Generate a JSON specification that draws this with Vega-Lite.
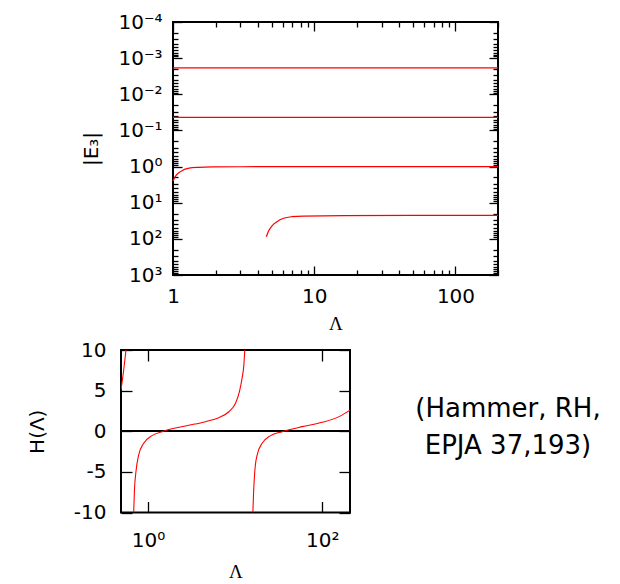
{
  "$schema": "https://vega.github.io/schema/vega-lite/v6.json",
  "background": "white",
  "padding": {"left": 26, "top": 11, "right": 0, "bottom": 0},
  "columns": 1,
  "align": "none",
  "spacing": 5,
  "config": {
    "view": {"stroke": "black", "strokeWidth": 2},
    "axis": {
      "domain": false, "grid": false,
      "labelFont": "DejaVu Sans", "labelFontSize": 20, "labelColor": "black",
      "tickColor": "black", "tickWidth": 1.3, "titleColor": "black",
      "titleFont": "DejaVu Sans", "titleFontSize": 20, "titleFontWeight": "normal",
      "labelOverlap": false, "labelFlush": false, "labelBound": false
    }
  },
  "concat": [
    {
      "spacing": -42,
      "hconcat": [
        {
          "width": 1,
          "height": 1,
          "view": {"stroke": null},
          "data": {"values": []},
          "mark": "text",
          "encoding": {}
        },
        {
          "width": 325,
          "height": 253,
          "data": {"values": [
            {"series": "a", "lambda": 1, "e": 0.00186},
            {"series": "a", "lambda": 10, "e": 0.00186},
            {"series": "a", "lambda": 200, "e": 0.00186},
            {"series": "b", "lambda": 1, "e": 0.0437},
            {"series": "b", "lambda": 10, "e": 0.0437},
            {"series": "b", "lambda": 200, "e": 0.0437},
            {"series": "c", "lambda": 1.0, "e": 2.49},
            {"series": "c", "lambda": 1.045, "e": 1.81},
            {"series": "c", "lambda": 1.13, "e": 1.38},
            {"series": "c", "lambda": 1.3, "e": 1.11},
            {"series": "c", "lambda": 1.52, "e": 1.05},
            {"series": "c", "lambda": 1.9, "e": 1.02},
            {"series": "c", "lambda": 3, "e": 1.01},
            {"series": "c", "lambda": 10, "e": 1.0},
            {"series": "c", "lambda": 200, "e": 1.0},
            {"series": "d", "lambda": 4.58, "e": 87.5},
            {"series": "d", "lambda": 4.75, "e": 60.8},
            {"series": "d", "lambda": 5.01, "e": 44.2},
            {"series": "d", "lambda": 5.44, "e": 33.6},
            {"series": "d", "lambda": 6.07, "e": 27.0},
            {"series": "d", "lambda": 6.94, "e": 24.4},
            {"series": "d", "lambda": 8.39, "e": 23.4},
            {"series": "d", "lambda": 16.1, "e": 22.9},
            {"series": "d", "lambda": 50, "e": 22.5},
            {"series": "d", "lambda": 200, "e": 22.3}
          ]},
          "layer": [
            {
              "mark": {"type": "line", "color": "#ff0000", "strokeWidth": 1.2, "interpolate": "monotone"},
              "encoding": {
                "x": {
                  "field": "lambda", "type": "quantitative",
                  "scale": {"type": "log", "domain": [1, 200], "nice": false},
                  "axis": {
                    "orient": "bottom",
                    "values": [1,2,3,4,5,6,7,8,9,10,20,30,40,50,60,70,80,90,100,200],
                    "tickSize": {"condition": {"test": "datum.value == 1 || datum.value == 10 || datum.value == 100", "value": -9}, "value": -5},
                    "labelExpr": "datum.value == 1 || datum.value == 10 || datum.value == 100 ? format(datum.value, 'd') : ''",
                    "labelPadding": 20,
                    "title": "Λ", "titleFont": "Liberation Serif", "titleFontSize": 19, "titlePadding": 4
                  }
                },
                "y": {
                  "field": "e", "type": "quantitative",
                  "scale": {"type": "log", "domain": [0.0001, 1000], "reverse": true, "nice": false},
                  "axis": {
                    "orient": "left",
                    "values": [0.0001,0.0002,0.0003,0.0004,0.0005,0.0006,0.0007,0.0008,0.0009,0.001,0.002,0.003,0.004,0.005,0.006,0.007,0.008,0.009,0.01,0.02,0.03,0.04,0.05,0.06,0.07,0.08,0.09,0.1,0.2,0.3,0.4,0.5,0.6,0.7,0.8,0.9,1,2,3,4,5,6,7,8,9,10,20,30,40,50,60,70,80,90,100,200,300,400,500,600,700,800,900,1000],
                    "tickSize": {"condition": {"test": "abs(log(datum.value)/LN10 - round(log(datum.value)/LN10)) < 0.001", "value": -9}, "value": -5},
                    "labelExpr": "abs(log(datum.value)/LN10 - round(log(datum.value)/LN10)) < 0.001 ? '10' + (round(log(datum.value)/LN10) < 0 ? '⁻' : '') + ['⁰','¹','²','³','⁴'][abs(round(log(datum.value)/LN10))] : ''",
                    "labelPadding": 20,
                    "title": "|E₃|", "titlePadding": 16
                  }
                },
                "detail": {"field": "series"}
              }
            },
            {
              "mark": {"type": "line", "opacity": 0},
              "encoding": {
                "x": {
                  "field": "lambda", "type": "quantitative",
                  "axis": {
                    "orient": "top", "labels": false, "title": null,
                    "values": [1,2,3,4,5,6,7,8,9,10,20,30,40,50,60,70,80,90,100,200],
                    "tickSize": {"condition": {"test": "datum.value == 1 || datum.value == 10 || datum.value == 100", "value": -9}, "value": -5}
                  }
                },
                "y": {
                  "field": "e", "type": "quantitative",
                  "axis": {
                    "orient": "right", "labels": false, "title": null,
                    "values": [0.0001,0.0002,0.0003,0.0004,0.0005,0.0006,0.0007,0.0008,0.0009,0.001,0.002,0.003,0.004,0.005,0.006,0.007,0.008,0.009,0.01,0.02,0.03,0.04,0.05,0.06,0.07,0.08,0.09,0.1,0.2,0.3,0.4,0.5,0.6,0.7,0.8,0.9,1,2,3,4,5,6,7,8,9,10,20,30,40,50,60,70,80,90,100,200,300,400,500,600,700,800,900,1000],
                    "tickSize": {"condition": {"test": "abs(log(datum.value)/LN10 - round(log(datum.value)/LN10)) < 0.001", "value": -9}, "value": -5}
                  }
                },
                "detail": {"field": "series"}
              }
            }
          ],
          "resolve": {"axis": {"x": "independent", "y": "independent"}}
        }
      ]
    },
    {
      "spacing": 56,
      "hconcat": [
        {
          "width": 229,
          "height": 162.5,
          "data": {"values": [
            {"branch": "1", "lambda": 0.49, "h": 5.08},
            {"branch": "1", "lambda": 0.526, "h": 7.54},
            {"branch": "1", "lambda": 0.559, "h": 10},
            {"branch": "2", "lambda": 0.685, "h": -10},
            {"branch": "2", "lambda": 0.698, "h": -7.4},
            {"branch": "2", "lambda": 0.728, "h": -4.96},
            {"branch": "2", "lambda": 0.782, "h": -2.9},
            {"branch": "2", "lambda": 0.893, "h": -1.48},
            {"branch": "2", "lambda": 1.11, "h": -0.54},
            {"branch": "2", "lambda": 1.5, "h": 0.0},
            {"branch": "2", "lambda": 2.69, "h": 0.65},
            {"branch": "2", "lambda": 4.57, "h": 1.18},
            {"branch": "2", "lambda": 6.5, "h": 1.67},
            {"branch": "2", "lambda": 8.47, "h": 2.4},
            {"branch": "2", "lambda": 10.1, "h": 3.44},
            {"branch": "2", "lambda": 11.2, "h": 4.87},
            {"branch": "2", "lambda": 12.0, "h": 6.5},
            {"branch": "2", "lambda": 12.6, "h": 8.2},
            {"branch": "2", "lambda": 12.9, "h": 10},
            {"branch": "3", "lambda": 15.97, "h": -10},
            {"branch": "3", "lambda": 16.3, "h": -7.4},
            {"branch": "3", "lambda": 16.8, "h": -4.96},
            {"branch": "3", "lambda": 17.9, "h": -2.9},
            {"branch": "3", "lambda": 20.4, "h": -1.48},
            {"branch": "3", "lambda": 25.5, "h": -0.54},
            {"branch": "3", "lambda": 34.7, "h": -0.05},
            {"branch": "3", "lambda": 58.9, "h": 0.57},
            {"branch": "3", "lambda": 100, "h": 1.1},
            {"branch": "3", "lambda": 155.6, "h": 1.8},
            {"branch": "3", "lambda": 208, "h": 2.6}
          ]},
          "layer": [
            {
              "mark": {"type": "rule", "color": "black", "strokeWidth": 1.5},
              "encoding": {"y": {"datum": 0, "type": "quantitative", "axis": null}}
            },
            {
              "mark": {"type": "line", "color": "#ff0000", "strokeWidth": 1.1, "interpolate": "monotone", "clip": true},
              "encoding": {
                "x": {
                  "field": "lambda", "type": "quantitative",
                  "scale": {"type": "log", "domain": [0.49, 208], "nice": false},
                  "axis": {
                    "orient": "bottom", "values": [1, 100], "tickSize": -11,
                    "labelExpr": "datum.value == 1 ? '10⁰' : '10²'",
                    "labelPadding": 29,
                    "title": "Λ", "titleFont": "Liberation Serif", "titleFontSize": 19, "titlePadding": 12
                  }
                },
                "y": {
                  "field": "h", "type": "quantitative",
                  "scale": {"domain": [-10, 10], "nice": false, "zero": false},
                  "axis": {
                    "orient": "left", "values": [-10, -5, 0, 5, 10], "tickSize": -11,
                    "labelExpr": "datum.value < 0 ? '-' + abs(datum.value) : '' + datum.value",
                    "labelPadding": 26,
                    "title": "H(Λ)", "titlePadding": 26
                  }
                },
                "detail": {"field": "branch"}
              }
            },
            {
              "mark": {"type": "line", "opacity": 0},
              "encoding": {
                "x": {
                  "field": "lambda", "type": "quantitative",
                  "axis": {"orient": "top", "values": [1, 100], "tickSize": -11, "labels": false, "title": null}
                },
                "y": {
                  "field": "h", "type": "quantitative",
                  "axis": {"orient": "right", "values": [-10, -5, 0, 5, 10], "tickSize": -11, "labels": false, "title": null}
                },
                "detail": {"field": "branch"}
              }
            }
          ],
          "resolve": {"axis": {"x": "independent", "y": "independent"}}
        },
        {
          "width": 200,
          "height": 118,
          "view": {"stroke": null},
          "data": {"values": [{"t": ["(Hammer, RH,", "EPJA 37,193)"]}]},
          "mark": {"type": "text", "font": "DejaVu Sans", "fontSize": 26, "lineHeight": 37, "align": "center", "baseline": "middle", "color": "black"},
          "encoding": {"text": {"field": "t"}}
        }
      ]
    }
  ]
}
